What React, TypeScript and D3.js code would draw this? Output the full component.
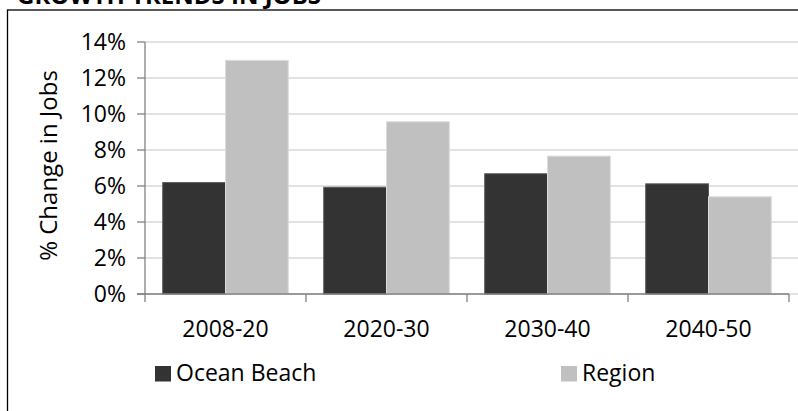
import React from "react";
import * as d3 from "d3";

const categories = ["2008-20", "2020-30", "2030-40", "2040-50"];
const seriesNames = ["Ocean Beach", "Region"];
const oceanBeach = [6.19, 5.93, 6.68, 6.12];
const region = [12.98, 9.57, 7.66, 5.4];
const yTicks = [0, 2, 4, 6, 8, 10, 12, 14];
const colors = ["#333333", "#c0c0c0"];
const strokes = ["#5a5a5a", "#dcdcdc"];
const title = "GROWTH TRENDS IN JOBS";
const yTitle = "% Change in Jobs";

const W = 798;
const H = 411;
const left = 145;
const right = 789;
const top = 42;
const bottom = 294;
const FONT = "'Open Sans', sans-serif";

export default function App() {
  const x0 = d3.scaleBand<string>().domain(categories).range([left, right]).paddingInner(0).paddingOuter(0);
  const step = x0.step();
  const x1 = d3
    .scaleBand<string>()
    .domain(seriesNames)
    .range([step * 0.11, step * 0.89])
    .paddingInner(0);
  const y = d3.scaleLinear().domain([0, 14]).range([bottom, top]);
  const values = [oceanBeach, region];

  return (
    <svg
      width={W}
      height={H}
      style={{ position: "absolute", left: 0, top: 0, display: "block", background: "#fff" }}
    >
      <text x={17} y={4} fontFamily={FONT} fontWeight="bold" fontSize={24} fill="#000">
        {title}
      </text>
      <rect x={7.5} y={10} width={W + 20} height={H + 20} fill="none" stroke="#000" strokeWidth={1.3} />
      {yTicks.map((t) => (
        <line key={"g" + t} x1={left} x2={W} y1={y(t)} y2={y(t)} stroke="#c6c6c6" strokeWidth={1} />
      ))}
      {categories.map((c, i) => (
        <g key={c} transform={`translate(${x0(c)},0)`}>
          {seriesNames.map((s, j) => (
            <rect
              key={s}
              x={x1(s)}
              y={y(values[j][i])}
              width={x1.bandwidth()}
              height={y(0) - y(values[j][i])}
              fill={colors[j]}
              stroke={strokes[j]}
              strokeWidth={1}
            />
          ))}
        </g>
      ))}
      <line x1={left} x2={left} y1={top} y2={bottom} stroke="#808080" strokeWidth={1.3} />
      {yTicks.map((t) => (
        <g key={"t" + t}>
          <line x1={left - 8} x2={left} y1={y(t)} y2={y(t)} stroke="#808080" strokeWidth={1.3} />
          <text
            x={left - 19}
            y={y(t)}
            dy="0.36em"
            textAnchor="end"
            fontFamily={FONT}
            fontSize={23}
            fill="#000"
          >
            {t}%
          </text>
        </g>
      ))}
      <line x1={left - 8} x2={right} y1={bottom} y2={bottom} stroke="#808080" strokeWidth={1.3} />
      {categories.map((c) => (
        <line
          key={"xt" + c}
          x1={(x0(c) as number) + step}
          x2={(x0(c) as number) + step}
          y1={bottom}
          y2={bottom + 8}
          stroke="#808080"
          strokeWidth={1.3}
        />
      ))}
      <line x1={left} x2={left} y1={bottom} y2={bottom + 8} stroke="#808080" strokeWidth={1.3} />
      {categories.map((c) => (
        <text
          key={"xl" + c}
          x={(x0(c) as number) + step / 2}
          y={337}
          textAnchor="middle"
          fontFamily={FONT}
          fontSize={23}
          fill="#000"
        >
          {c}
        </text>
      ))}
      <text
        transform={`translate(57,${165.5}) rotate(-90)`}
        textAnchor="middle"
        fontFamily={FONT}
        fontSize={24}
        fill="#000"
      >
        {yTitle}
      </text>
      {seriesNames.map((s, j) => {
        const lx = j === 0 ? 155 : 561;
        return (
          <g key={"lg" + s}>
            <rect x={lx} y={366} width={16} height={15.5} fill={colors[j]} />
            <text x={lx + 21} y={381} fontFamily={FONT} fontSize={23} fill="#000">
              {s}
            </text>
          </g>
        );
      })}
    </svg>
  );
}
